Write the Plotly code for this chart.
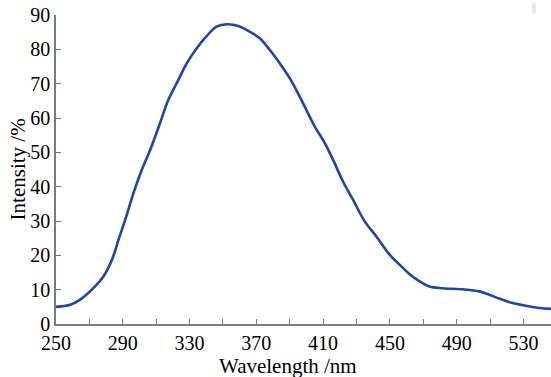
import plotly.graph_objects as go

wavelength = [250, 258.5, 264.5, 272.5, 278.5, 283.5, 287.4, 291.4, 296.4, 301.4,
              306.4, 312.3, 317.3, 323.3, 328.3, 334.3, 340.3, 346.2, 352.2, 359.2,
              366.1, 372.1, 378.1, 384.1, 390.0, 396.0, 405.0, 411.0, 416.0, 421.9,
              427.9, 434.9, 441.9, 449.8, 455.8, 461.8, 467.8, 473.7, 481.7, 493.6,
              503.6, 509.6, 515.6, 523.5, 531.5, 539.5, 546.5]
intensity = [5.0, 5.6, 7.1, 10.5, 13.9, 18.7, 24.5, 30.3, 38.1, 44.9,
             50.7, 58.5, 65.3, 71.1, 75.9, 80.3, 83.9, 86.6, 87.3, 86.8,
             85.1, 83.2, 79.8, 75.9, 71.6, 66.2, 57.5, 52.7, 47.8, 41.5,
             36.2, 29.9, 25.5, 20.2, 17.3, 14.5, 12.4, 10.9, 10.4, 10.1,
             9.5, 8.5, 7.4, 6.1, 5.3, 4.65, 4.4]

x_ticks = [250, 290, 330, 370, 410, 450, 490, 530]
y_ticks = [0, 10, 20, 30, 40, 50, 60, 70, 80, 90]
x_title = "Wavelength /nm"
y_title = "Intensity /%"

FONT = "Liberation Serif"
AX = "#7a7a7a"

fig = go.Figure()
fig.add_trace(go.Scatter(x=wavelength, y=intensity, mode="lines",
                         line=dict(color="#1f45a6", width=2.6, shape="spline", smoothing=1.0),
                         hoverinfo="skip", showlegend=False))

fig.update_layout(
    width=551, height=377,
    margin=dict(l=56, r=0, t=15, b=53),
    paper_bgcolor="white", plot_bgcolor="white",
    font=dict(family=FONT, size=20, color="black"),
    xaxis=dict(range=[250, 546.5], tickvals=x_ticks, ticks="inside", ticklen=5,
               tickcolor=AX, tickwidth=1.2, showline=True, linecolor=AX, linewidth=1.5,
               showgrid=False, zeroline=False, automargin=False,
               minor=dict(dtick=20, tick0=250, ticks="inside", ticklen=5, tickcolor=AX, tickwidth=1.2, showgrid=False),
               tickfont=dict(family=FONT, size=20)),
    yaxis=dict(range=[0, 90], tickvals=y_ticks, ticks="inside", ticklen=5,
               tickcolor=AX, tickwidth=1.2, showline=True, linecolor=AX, linewidth=1.5,
               showgrid=False, zeroline=False, ticklabelstandoff=0, automargin=False,
               tickfont=dict(family=FONT, size=20)),
    annotations=[
        dict(text=x_title, xref="paper", yref="paper", x=0.469, y=-0.09,
             xanchor="center", yanchor="top", showarrow=False,
             font=dict(family=FONT, size=21)),
        dict(text=y_title, xref="paper", yref="paper", x=-0.077, y=0.5,
             xanchor="center", yanchor="middle", showarrow=False, textangle=-90,
             font=dict(family=FONT, size=21)),
    ],
    shapes=[dict(type="rect", xref="paper", yref="paper", x0=0.961, x1=0.97,
                 y0=1.005, y1=1.04, fillcolor="#e9e9e9", line=dict(width=0))],
)

fig.write_html("out.html", config={"displayModeBar": False},
               post_script="document.body.style.margin='0';")
